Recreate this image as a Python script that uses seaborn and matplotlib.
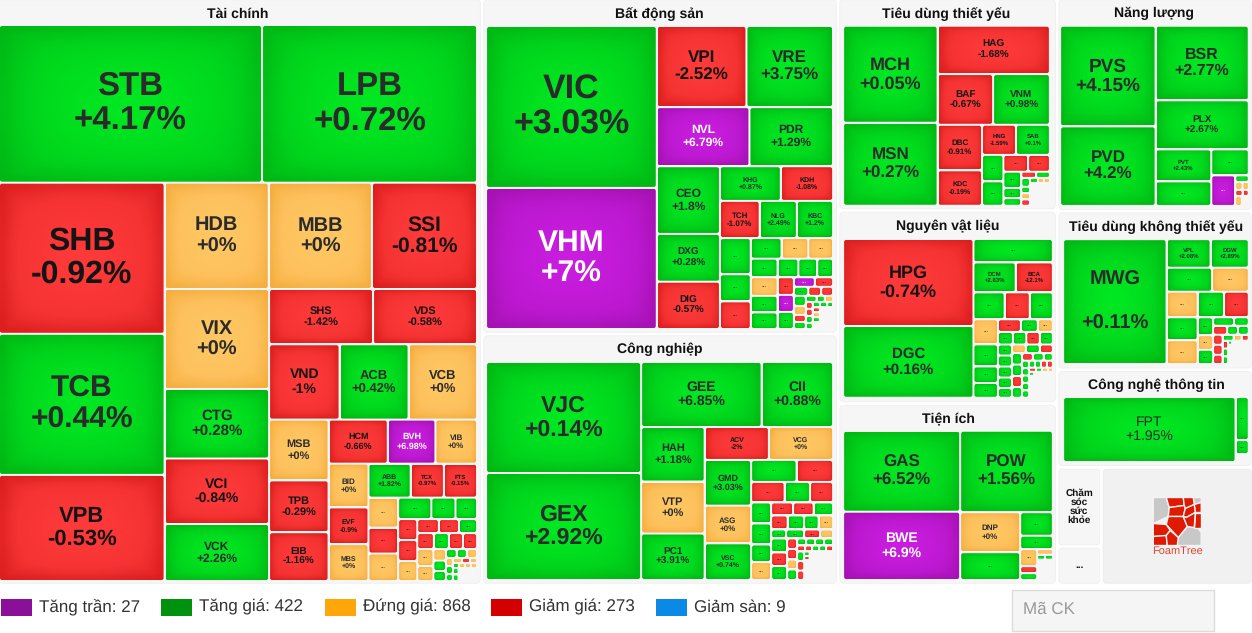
import matplotlib
matplotlib.use("Agg")
import numpy as np
import matplotlib.pyplot as plt
from matplotlib.patches import FancyBboxPatch, Polygon, Rectangle
import seaborn as sns

# market map values
# weights are cell areas, status: G up, R down, A flat, P ceiling, _ empty gap
# a space in status closes one strip, orient says how that strip is laid ("r" row, "c" column)
TC_TITLE = "Tài chính"
TC_NAMES = ["STB", "LPB", "SHB", "TCB", "VPB", "HDB", "MBB", "SSI", "VIX", "CTG", "VCI", "VCK", "SHS", "VDS", "VND",
            "ACB", "VCB", "MSB", "TPB", "EIB", "HCM", "BVH", "VIB", "BID", "EVF", "MBS", "ABB", "TCX", "FTS"]
TC_CHANGES = [4.17, 0.72, -0.92, 0.44, -0.53, 0, 0, -0.81, 0, 0.28, -0.84, 2.26, -1.42, -0.58, -1,
              0.42, 0, 0, -0.29, -1.16, -0.66, 6.98, 0, 0, -0.9, 0, 1.82, -0.97, -0.15]
TC_WEIGHTS = [41291, 33755, 24915, 23265, 17490, 11024, 10918, 11130, 10400, 7228, 6812, 5928, 5720, 5720,
              5288, 5175, 5138, 3600, 3068, 2891, 2596, 2090, 1826, 1738, 1462, 1462, 1428, 1122, 1122,
              885, 767, 811, 710, 516, 462, 399, 399, 380, 301, 280, 252, 264, 240, 224, 224, 272, 240,
              144, 131, 125, 95, 90, 90, 56, 56, 49, 45, 40, 35, 30, 30, 30, 30, 36, 36, 240]
TC_STATUS = "GG RGR AAR AGRG RR RGA ARR RPA ARA GRR ARA GGG RRA RRG RGRR AA AGG GGA AGG ARA GAAA GG _"
TC_ORIENT = "rcrcrrcrcrcrcrrccrcrrcr"
TC_PAD = (2.25, 25.25, 3.25, 2.25)

BDS_TITLE = "Bất động sản"
BDS_NAMES = ["VIC", "VHM", "VPI", "VRE", "NVL", "PDR", "CEO", "DXG", "DIG", "KHG", "KDH", "TCH", "NLG", "KBC"]
BDS_CHANGES = [3.03, 7, -2.52, 3.75, 6.79, 1.29, 1.8, 0.28, -0.57, 0.87, -1.08, -1.07, 2.49, 1.2]
BDS_WEIGHTS = [27710, 24140, 7290, 7047, 5487, 4956, 4284, 3024, 2993, 2116, 1817, 1481, 1387, 1350,
               1116, 837, 853, 636, 553, 512, 500, 388, 352, 296, 500, 445, 445, 289, 280, 280, 200, 175,
               130, 117, 108, 120, 108, 84, 84, 65, 50, 50, 49, 49, 49, 42, 40, 40, 33, 35, 35, 35, 49, 286]
BDS_STATUS = "GP RG PG GGR GR RGG GGR GAA GGGG AGG RPG PR GRR GARG GGA RRGG GGG RAG_ _"
BDS_ORIENT = "crrcrrcrrccrrcrcrcc"
BDS_PAD = (2.25, 26.25, 3.25, 3.25)

CN_TITLE = "Công nghiệp"
CN_NAMES = ["VJC", "GEX", "GEE", "CII", "HAH", "VTP", "PC1", "ACV", "VCG", "GMD", "ASG", "VSC"]
CN_CHANGES = [0.14, 2.92, 6.85, 0.88, 1.18, 0, 3.91, -2, 0, 3.03, 0, 0.74]
CN_WEIGHTS = [17205, 16585, 7832, 4648, 3461, 3302, 2953, 2112, 2112, 2125, 1750, 1705, 1000, 804, 686, 523, 472,
              420, 420, 350, 360, 286, 267, 253, 231, 231, 203, 203, 135, 162, 144, 117, 224, 216, 224,
              105, 105, 100, 105, 63, 63, 63, 63, 48, 42, 42, 42, 42, 67, 67, 66, 25, 22, 110, 669]
CN_STATUS = "GG GG GAG RA GAG GR RGR GGGA RRG RGGA GGRA GRG RRAG GGGG RRGGR GRR GR_ _"
CN_ORIENT = "crcrcrrcrrrccrrccr"
CN_PAD = (2.25, 26.25, 3.25, 3.25)

TD_TITLE = "Tiêu dùng thiết yếu"
TD_NAMES = ["MCH", "MSN", "HAG", "BAF", "VNM", "DBC", "KDC", "HNG", "SAB"]
TD_CHANGES = [0.05, 0.27, -1.68, -0.67, 0.98, -0.91, -0.19, -1.59, 0.1]
TD_WEIGHTS = [9070, 7760, 5368, 2785, 2850, 2002, 1558, 1010, 1010, 559, 516, 412, 363, 288, 180, 135,
              90, 84, 76, 54, 54, 54, 40, 30, 30, 450]
TD_STATUS = "GG R RG RR RG GG RR GGG RG GGAR GAA _"
TD_ORIENT = "crrcrcrcrcrr"
TD_PAD = (3.25, 26, 5.5, 3)

NVL_TITLE = "Nguyên vật liệu"
NVL_NAMES = ["HPG", "DGC", "...", "DCM", "BCA"]
NVL_CHANGES = [-0.74, 0.16, None, 2.83, -12.1]
NVL_WEIGHTS = [11310, 9321, 1856, 1260, 1110, 837, 675, 621, 612, 539, 404, 360, 288, 212, 190, 188, 169, 169, 165,
               154, 154, 154, 147, 136, 119, 119, 112, 115, 115, 110, 107, 82, 82, 69, 52, 52, 52, 52, 52,
               42, 42, 42, 42, 28, 24, 24, 20, 20, 110, 487]
NVL_STATUS = "RG G GR GRG AGGG RGA GGRG GGGGG AGR GGRG RGG GGGGG GGRR RGAA G_ _"
NVL_ORIENT = "crrrcrrcrcrcrrcr"
NVL_PAD = (3.25, 26.75, 2.5, 4)

TI_TITLE = "Tiện ích"
TI_NAMES = ["GAS", "BWE", "POW", "DNP"]
TI_CHANGES = [6.52, 6.9, 1.56, 0]
TI_WEIGHTS = [9477, 7991, 7555, 2400, 1668, 768, 441, 289, 119, 116, 86, 39, 39, 319]
TI_STATUS = "GP G AG G G ARG A GG _"
TI_ORIENT = "crcrrcrrr"
TI_PAD = (3.25, 25.5, 2.5, 3.25)

NL_TITLE = "Năng lượng"
NL_NAMES = ["PVS", "PVD", "BSR", "PLX", "PVT"]
NL_CHANGES = [4.15, 4.2, 2.77, 2.67, 2.43]
NL_WEIGHTS = [9598, 7592, 6943, 4567, 1782, 1365, 975, 732, 88, 58, 50, 44, 37, 65, 70]
NL_STATUS = "GG G G GG G P G AA RR A_"
NL_ORIENT = "crrcrcrrrr"
NL_PAD = (1.25, 26, 2.5, 3.5)

TDK_TITLE = "Tiêu dùng không thiết yếu"
TDK_NAMES = ["MWG", "VPL", "DGW"]
TDK_CHANGES = [0.11, 2.08, 2.89]
TDK_WEIGHTS = [12938, 1254, 1089, 1092, 881, 790, 676, 630, 713, 744, 279, 225, 225, 178, 125, 126, 97, 97,
               95, 95, 90, 66, 48, 42, 43, 43, 43, 16, 67, 405]
TDK_STATUS = "G GG GA AGR GA GAG GG RGG RRR GAR RGG G_ _"
TDK_ORIENT = "crrrccrrcrcrr"
TDK_PAD = (4.25, 26.25, 2.5, 3.75)

CNTT_TITLE = "Công nghệ thông tin"
CNTT_NAMES = ["FPT"]
CNTT_CHANGES = [1.95]
CNTT_WEIGHTS = [11212, 568, 185, 105]
CNTT_STATUS = "G G G _"
CNTT_ORIENT = "crrr"
CNTT_PAD = (4.25, 25.5, 2.5, 3.5)

# top level panel areas, same order as drawn below
PANEL_WEIGHTS = [285869, 119616, 89356, 46537, 42267, 39748, 41748, 31066, 19110, 3510, 1710, 17818]
PANEL_GROUPS = [1, 2, 3, 1, 1, 1, 2, 1]
PANEL_ORIENT = "cccrrrcc"

LEGEND_LABELS = ["Tăng trần", "Tăng giá", "Đứng giá", "Giảm giá", "Giảm sàn"]
LEGEND_COUNTS = [27, 422, 868, 273, 9]
LEGEND_COLORS = ["#8a0f99", "#00920f", "#ffa60a", "#d40000", "#0a8ae6"]
LEGEND_X = [1, 161, 325, 491, 656]

sns.set_theme(style="white")
plt.rcParams["font.family"] = ["Liberation Sans", "DejaVu Sans"]
plt.rcParams["text.hinting"] = "no_hinting"
plt.rcParams["text.hinting_factor"] = 1

GRADIENTS = {
    "G": sns.blend_palette(["#00ea22", "#00d41c", "#00b814"], as_cmap=True),
    "R": sns.blend_palette(["#ff3a3a", "#f53333", "#dc1e1e"], as_cmap=True),
    "A": sns.blend_palette(["#ffc864", "#fdc05c", "#f5ae3e"], as_cmap=True),
    "P": sns.blend_palette(["#ca1ee0", "#bc18d0", "#a512b2"], as_cmap=True),
}
TEXT_COLORS = {"G": "#2b2b2b", "R": "#141414", "A": "#2b2b2b", "P": "#ffffff"}
LINE_PITCH = {"MWG": 44}
PX = 0.72  # px to pt at dpi 100

yy, xx = np.mgrid[-1:1:24j, -1:1:24j]
SHADE = 0.65 * np.sqrt((xx**2 + yy**2) / 2) + 0.35 * np.maximum(np.abs(xx), np.abs(yy)) ** 5


def layout(box, weights, groups, orient):
    # cut strips off the box, each one sized by its share of the weights
    x0, y0, x1, y1 = box
    scale = (x1 - x0) * (y1 - y0) / sum(weights)
    rects = []
    i = 0
    for n, way in zip(groups, orient):
        part = weights[i:i + n]
        i += n
        if way == "r":
            h = sum(part) * scale / (x1 - x0)
            x = x0
            for v in part:
                w = v * scale / h
                rects.append((x, y0, x + w, y0 + h))
                x += w
            y0 += h
        else:
            w = sum(part) * scale / (y1 - y0)
            y = y0
            for v in part:
                h = v * scale / w
                rects.append((x0, y, x0 + w, y + h))
                y += h
            x0 += w
    return rects


def draw_cell(ax, rect, status, name, change):
    x0, y0, x1, y1 = rect[0] + 1, rect[1] + 1, rect[2] - 1, rect[3] - 1
    w, h = x1 - x0, y1 - y0
    if w <= 0 or h <= 0:
        return
    im = ax.imshow(SHADE, cmap=GRADIENTS[status], vmin=0, vmax=1, extent=(x0, x1, y1, y0),
                   aspect="auto", interpolation="bilinear", zorder=2)
    clip = FancyBboxPatch((x0, y0), w, h, boxstyle="round,pad=0,rounding_size=%.1f" % min(2, w / 3, h / 3),
                          transform=ax.transData, fc="none", ec="none")
    im.set_clip_path(clip)

    cx, cy = (x0 + x1) / 2, (y0 + y1) / 2
    size = min(0.215 * h, 0.2 * w)
    color = TEXT_COLORS[status]
    if name == "...":
        if w > 11 and h > 7:
            ax.text(cx, cy - 1, "...", ha="center", va="center", fontsize=min(max(size, 6), 10) * PX,
                    fontweight="bold", color=color, alpha=0.75, zorder=3)
        return
    pitch = LINE_PITCH.get(name, size * 1.03)
    weight = "normal" if name == "FPT" else "bold"
    ax.text(cx, cy - pitch / 2, name, ha="center", va="center", fontsize=size * PX, fontweight=weight,
            color=color, zorder=3)
    ax.text(cx, cy + pitch / 2, f"{change:+g}%", ha="center", va="center", fontsize=size * PX, fontweight=weight,
            color=color, zorder=3)


def draw_sector(ax, panel, title, names, changes, weights, status, orient, pad):
    x0, y0, x1, y1 = panel
    ax.add_patch(FancyBboxPatch((x0, y0), x1 - x0, y1 - y0, boxstyle="round,pad=0,rounding_size=4",
                                fc="#f6f6f6", ec="#efefef", lw=0.6, zorder=1))
    ax.text((x0 + pad[0] + x1 - pad[2]) / 2, y0 + 14, title, ha="center", va="center", fontsize=14 * PX,
            fontweight="bold", color="#111111", zorder=3)
    groups = [len(g) for g in status.split()]
    flat = status.replace(" ", "")
    rects = layout((x0 + pad[0], y0 + pad[1], x1 - pad[2], y1 - pad[3]), weights, groups, orient)
    for i, rect in enumerate(rects):
        if flat[i] == "_":
            continue
        name = names[i] if i < len(names) else "..."
        change = changes[i] if i < len(changes) else None
        draw_cell(ax, rect, flat[i], name, change)


fig = plt.figure(figsize=(12.52, 6.33), dpi=100)
ax = fig.add_axes([0, 0, 1, 1])

panels = layout((-5, -2, 1253, 585), PANEL_WEIGHTS, PANEL_GROUPS, PANEL_ORIENT)
panels = [(a + 1.75, b + 1.75, c - 1.75, d - 1.75) for a, b, c, d in panels]

sectors = [
    (TC_TITLE, TC_NAMES, TC_CHANGES, TC_WEIGHTS, TC_STATUS, TC_ORIENT, TC_PAD),
    (BDS_TITLE, BDS_NAMES, BDS_CHANGES, BDS_WEIGHTS, BDS_STATUS, BDS_ORIENT, BDS_PAD),
    (CN_TITLE, CN_NAMES, CN_CHANGES, CN_WEIGHTS, CN_STATUS, CN_ORIENT, CN_PAD),
    (TD_TITLE, TD_NAMES, TD_CHANGES, TD_WEIGHTS, TD_STATUS, TD_ORIENT, TD_PAD),
    (NVL_TITLE, NVL_NAMES, NVL_CHANGES, NVL_WEIGHTS, NVL_STATUS, NVL_ORIENT, NVL_PAD),
    (TI_TITLE, TI_NAMES, TI_CHANGES, TI_WEIGHTS, TI_STATUS, TI_ORIENT, TI_PAD),
    (NL_TITLE, NL_NAMES, NL_CHANGES, NL_WEIGHTS, NL_STATUS, NL_ORIENT, NL_PAD),
    (TDK_TITLE, TDK_NAMES, TDK_CHANGES, TDK_WEIGHTS, TDK_STATUS, TDK_ORIENT, TDK_PAD),
    (CNTT_TITLE, CNTT_NAMES, CNTT_CHANGES, CNTT_WEIGHTS, CNTT_STATUS, CNTT_ORIENT, CNTT_PAD),
]
for panel, sector in zip(panels, sectors):
    draw_sector(ax, panel, *sector)

# the two closed sectors and the attribution box
for (x0, y0, x1, y1), text in zip(panels[9:11], ["Chăm\nsóc\nsức\nkhỏe", "..."]):
    ax.add_patch(FancyBboxPatch((x0, y0), x1 - x0, y1 - y0, boxstyle="round,pad=0,rounding_size=3",
                                fc="#f6f6f6", ec="#efefef", lw=0.6, zorder=1))
    ax.text((x0 + x1) / 2, (y0 + y1) / 2, text, ha="center", va="center", fontsize=10.5 * PX, fontweight="bold",
            color="#111111", linespacing=0.95, zorder=3)

x0, y0, x1, y1 = panels[11]
ax.add_patch(FancyBboxPatch((x0, y0), x1 - x0, y1 - y0, boxstyle="round,pad=0,rounding_size=3",
                            fc="#f1f1f1", ec="#ebebeb", lw=0.6, zorder=1))
logo_x, logo_y = (x0 + x1) / 2 - 24, 497.5
LOGO_GRAY = [[(0, 0), (13, 0), (16, 10), (15, 19), (0, 26)], [(40, 0), (48, 0), (48, 5), (41, 7)],
             [(25, 40), (34, 29), (44, 30), (48, 35), (48, 48), (24, 48)]]
LOGO_RED = [[(13, 0), (30, 0), (31, 8), (16, 10)], [(30, 0), (40, 0), (41, 7), (32, 11), (31, 8)],
            [(41, 7), (48, 5), (48, 15), (42, 15)], [(16, 10), (31, 8), (32, 11), (30, 19), (15, 19)],
            [(32, 11), (41, 7), (42, 15), (33, 20), (30, 19)], [(42, 15), (48, 15), (48, 30), (41, 30)],
            [(15, 19), (30, 19), (34, 29), (25, 40), (13, 27)], [(30, 19), (33, 20), (42, 15), (41, 30), (34, 29)],
            [(0, 26), (13, 27), (17, 33), (13, 38), (0, 39)], [(0, 39), (13, 38), (14, 48), (0, 48)],
            [(13, 38), (17, 33), (25, 40), (24, 48), (14, 48)]]
for cells, col in ((LOGO_GRAY, "#c8c8c8"), (LOGO_RED, "#e01a00")):
    for pts in cells:
        ax.add_patch(Polygon([(logo_x + px, logo_y + py) for px, py in pts], fc=col, ec="#f4f4f4", lw=1, zorder=3))
ax.text((x0 + x1) / 2, 551.5, "FoamTree", ha="center", va="center", fontsize=11.5 * PX, color="#e2452f", zorder=3)

# legend strip
for x, label, count, color in zip(LEGEND_X, LEGEND_LABELS, LEGEND_COUNTS, sns.color_palette(LEGEND_COLORS)):
    ax.add_patch(Rectangle((x, 598.5), 31, 17, fc=color, ec="none"))
    ax.text(x + 38, 607, f"{label}: {count}", ha="left", va="center", fontsize=17 * PX, color="#333333")

# search box
ax.add_patch(Rectangle((1011.5, 589.5), 202, 41, fc="#f5f5f5", ec="#dcdcdc", lw=1))
ax.text(1023, 609, "Mã CK", ha="left", va="center", fontsize=17.5 * PX, color="#9a9a9a")

ax.set_xlim(0, 1252)
ax.set_ylim(633, 0)
ax.axis("off")
fig.savefig("out.png", dpi=100, facecolor="white")
